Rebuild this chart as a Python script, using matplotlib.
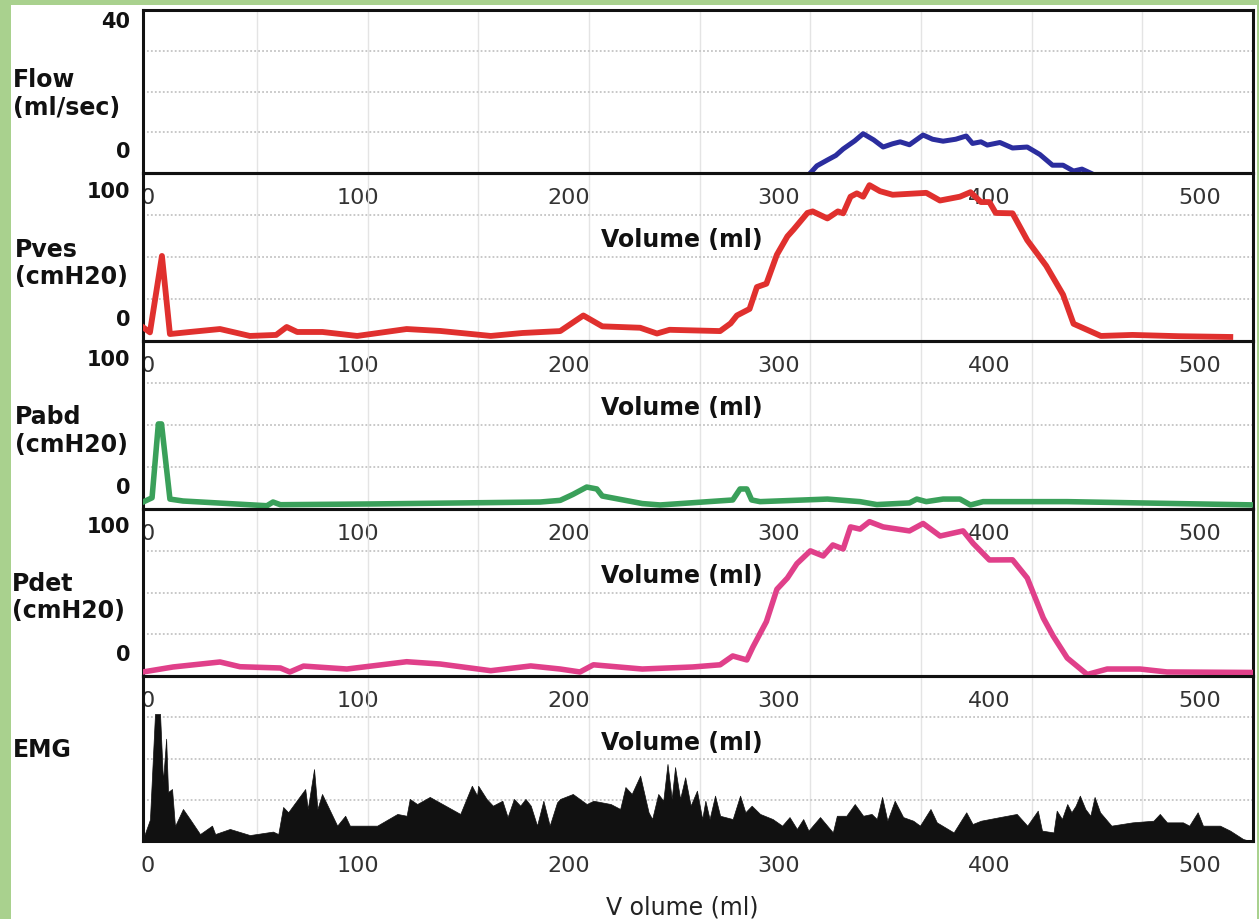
import matplotlib
matplotlib.use("Agg")
import matplotlib.pyplot as plt
from matplotlib.patches import Rectangle

# ---------------- data ----------------
x_ticks = [0, 100, 200, 300, 400, 500]

flow_vol = [314.9, 318, 323, 327, 330.5, 336, 340, 345, 349.5, 354,
            357.6, 362, 368.5, 373, 378, 384, 389, 392, 396, 399,
            405, 411, 418, 424, 430, 435, 440, 444, 448]
flow = [-7.4, -5.2, -3.4, -2.0, 0, 2.5, 4.7, 2.8, 0.6, 1.6,
        2.2, 1.3, 4.3, 3.0, 2.4, 3.0, 4.0, 1.7, 2.2, 1.2,
        2.0, 0.3, 0.6, -1.7, -5.0, -5.0, -6.8, -6.2, -7.4]

pves_vol = [-2.3, 1, 6.7, 10.5, 20, 34.3, 48.5, 61, 66, 71,
            83, 99.5, 123, 139, 163, 178, 196, 207, 216, 234,
            242, 248, 272, 277, 280, 286, 289.5, 294, 299, 304,
            307, 313.5, 316, 323, 328, 330.5, 334, 337, 340, 343,
            348, 354, 370, 376.5, 386, 391, 396, 400, 403, 411,
            418, 427, 435, 440, 453, 468, 490, 514.5]
pves = [-8, -12, 47.7, -13.3, -11.7, -9.4, -14.8, -14, -7.8, -11.7,
        -11.7, -14.8, -9.4, -10.9, -14.8, -12.5, -11, 1.2, -7.3, -8.4,
        -12.9, -10, -11, -5, 1.2, 6.3, 23.4, 26, 48.7, 63,
        68.5, 81.3, 82.5, 77, 82.5, 81, 94, 96.6, 94, 103,
        98.3, 95.5, 97, 91, 94, 97.5, 89.8, 89.8, 81.3, 81,
        60, 40, 17.5, -5.3, -14.8, -14, -15, -15.6]

pabd_vol = [-2.3, 2, 5, 6.5, 10.5, 16.7, 56.6, 59.5, 63, 107,
            186.5, 196, 202, 208.6, 213.4, 216, 235, 243.5, 278, 281.5,
            284.7, 287, 291, 323, 338.5, 346.5, 362, 365.5, 370, 378,
            386, 391, 397, 437, 527]
pabd = [-13.3, -10, 47.7, 47.7, -11, -12.5, -16.2, -13.3, -15.4, -14.8,
        -13.3, -12, -7.4, -1.6, -3.1, -8.6, -14.5, -15.6, -11.7, -3.1,
        -3.1, -11.7, -13, -11, -13, -15.3, -14, -11, -13, -11,
        -11, -15.6, -13, -13, -15.6]

pdet_vol = [-2.3, 12, 34.3, 43.8, 63, 67.5, 74, 94.6, 123, 139,
            163, 182, 196, 205.4, 211.8, 235, 259, 272, 278, 284.7,
            287.6, 294, 299, 304, 308.5, 314.9, 321, 325.6, 330.5, 334,
            338.5, 343, 349.5, 362, 368.5, 376.6, 387.5, 392.3, 400, 411,
            418, 425.6, 430.3, 437, 446.5, 456, 471.6, 484.4, 527]
pdet = [-15.6, -11.7, -7.8, -11.5, -12.5, -15.6, -11, -13.3, -7.6, -9.4,
        -14.6, -10.9, -13.3, -15.6, -10, -13.3, -11.7, -10, -3.1, -6.2,
        3.9, 23.7, 49, 57.8, 69, 79, 75, 83.6, 80.5, 97.7,
        96, 101.8, 97.7, 94.6, 100.4, 90.6, 94.6, 84.8, 71.9, 72,
        57.8, 26.6, 12.5, -4.7, -17.6, -13.3, -13.3, -15.6, -16]

emg_vol = [-2.3, 1, 3.4, 5.8, 7.2, 8.7, 9.6, 11.5, 12.9, 16.7,
           20, 24.8, 30.5, 32, 39, 48.5, 59.5, 62, 64.3, 66.7,
           69, 74.8, 76, 79, 80.6, 82.8, 90, 93.8, 96, 109,
           118.6, 123, 124.5, 128, 134, 148.5, 154, 156.5, 157, 161,
           164, 168.5, 171, 174, 177, 179.5, 182, 185, 188, 191,
           194.5, 196, 202, 208.6, 211.8, 220, 224.5, 227, 230, 234,
           238, 239.7, 242.6, 245, 247, 249, 250.6, 253, 255.4, 258,
           261, 263.5, 265, 267, 269.6, 272, 278, 281.5, 284, 287,
           291, 297, 301.5, 305, 308.5, 311.5, 314, 319.5, 325.6, 327.5,
           332, 336, 340, 344, 346.5, 349, 351.5, 355, 359, 363.8,
           367, 372, 375, 383, 389, 392, 396, 405, 413, 418,
           423, 425, 430.5, 432, 434.5, 437, 439, 441, 443, 445.6,
           448, 450, 452.6, 458, 468, 478, 481, 484.4, 492, 495,
           499, 501.5, 509.6, 514.4, 520.6, 524]
emg = [1.2, 13, 77, 77, 36, 62, 29.7, 31.5, 9, 19.4,
       13.3, 4.2, 9.3, 4.2, 7.3, 3.6, 5.7, 4.2, 20.6, 17.4,
       21.4, 31.5, 19.4, 43.6, 19.4, 28.5, 9.3, 15.3, 9.3, 9.3,
       16.4, 15.3, 25.5, 22.4, 26.7, 16.4, 33.5, 27.5, 33.5, 25.5,
       21.4, 24.4, 14.5, 25.5, 21.4, 25.5, 21.4, 9.3, 24.4, 9.3,
       23.4, 25.5, 28.5, 22.4, 24.4, 22.4, 19.4, 32.7, 28.5, 39.6,
       17.4, 13.3, 28.5, 24.4, 46.7, 25.5, 44.8, 25.5, 38.6, 21.4,
       30.5, 13.3, 24.4, 13.3, 27.5, 15.3, 13.3, 27.5, 17.4, 21.4,
       16.4, 13.3, 9.3, 14.5, 7.3, 13.3, 6.3, 14.5, 5.2, 15.3,
       15.3, 22.4, 15.3, 16.4, 13.3, 26.7, 12.3, 24.4, 14.5, 12.3,
       9.3, 19.4, 11.3, 5.2, 17.4, 10.3, 12.3, 14.5, 16.4, 9.3,
       18.4, 6.3, 5.2, 18.4, 13.3, 22.4, 17.4, 21.4, 27.5, 19.4,
       15.3, 26.7, 17.4, 9.3, 11.3, 12.3, 16.4, 11.3, 11.3, 9.3,
       17.4, 9.3, 9.3, 6.3, 1.2, 0]

channel_labels = ["Flow\n(ml/sec)", "Pves\n(cmH20)", "Pabd\n(cmH20)",
                  "Pdet\n(cmH20)", "EMG"]
y_ticks = [[0, 40], [0, 100], [0, 100], [0, 100], []]
x_label = "Volume (ml)"
x_label_bottom = "V olume (ml)"

# ---------------- layout ----------------
W, H = 1259, 920
fig = plt.figure(figsize=(W / 100, H / 100), dpi=100, facecolor="#a9d18e")
fig.add_artist(Rectangle((11 / W, 0), (1257 - 11) / W, (H - 6) / H,
                         transform=fig.transFigure, facecolor="white",
                         edgecolor="none", zorder=-10))

tops = [11, 174, 342, 510, 677]
bots = [174, 342, 510, 677, 842]
ylims = [(-7.4, 42.8), (-18.75, 112.5), (-18.75, 112.5), (-18.75, 111.7), (0, 100)]
xlim = (-2.3, 525.3)
label_y = [94, 263.5, 431, 597.5, 750]
label_x = [13, 15, 15, 12, 13]

axes = []
for i in range(5):
    ax = fig.add_axes([143 / W, 1 - bots[i] / H, 1110 / W, (bots[i] - tops[i]) / H])
    ax.set_facecolor("none")
    ax.set_xlim(*xlim)
    ax.set_ylim(*ylims[i])
    for s in ax.spines.values():
        s.set_linewidth(2.2)
        s.set_color("#111111")
    # grid
    lo, hi = ylims[i]
    for f in (0.25, 0.5, 0.75):
        ax.axhline(lo + f * (hi - lo), color="#c4c4c4", lw=1.3,
                   ls=(0, (1, 1.2)), zorder=0.5)
    for k in range(9):
        f = 0.1027 + k * 0.0997
        ax.axvline(xlim[0] + f * (xlim[1] - xlim[0]), color="#e4e4e4",
                   lw=1.0, zorder=0.4)
    ax.set_xticks(x_ticks)
    ax.set_xticklabels([str(t) for t in x_ticks])
    ax.tick_params(axis="x", length=0, pad=10, labelsize=16, labelcolor="#333333")
    ax.set_yticks(y_ticks[i])
    ax.set_yticklabels([str(t) for t in y_ticks[i]], fontweight="bold")
    ax.tick_params(axis="y", length=0, pad=9, labelsize=15, labelcolor="#111111")
    fig.text(label_x[i] / W, 1 - label_y[i] / H, channel_labels[i],
             ha="left", va="center", fontsize=17, fontweight="bold",
             color="#111111", linespacing=1.2)
    if i < 4:
        ax.annotate(x_label, xy=(0.4856, 0), xycoords="axes fraction",
                    xytext=(0, -66 * 0.72), textcoords="offset points",
                    ha="center", va="center", fontsize=17, fontweight="bold",
                    color="#111111", annotation_clip=False)
    else:
        ax.annotate(x_label_bottom, xy=(0.4856, 0), xycoords="axes fraction",
                    xytext=(0, -66 * 0.72), textcoords="offset points",
                    ha="center", va="center", fontsize=17,
                    color="#222222", annotation_clip=False)
    axes.append(ax)

axes[0].plot(flow_vol, flow, color="#2b2d9e", lw=3.6, solid_joinstyle="round", zorder=3)
axes[1].plot(pves_vol, pves, color="#e0302e", lw=4.2, solid_joinstyle="round", zorder=3)
axes[2].plot(pabd_vol, pabd, color="#3aa05a", lw=4.0, solid_joinstyle="round", zorder=3)
axes[3].plot(pdet_vol, pdet, color="#e0408a", lw=4.0, solid_joinstyle="round", zorder=3)
axes[4].fill_between(emg_vol, 0, emg, color="#111111", lw=0.5, zorder=3)

fig.savefig("out.png", dpi=100, facecolor=fig.get_facecolor())
